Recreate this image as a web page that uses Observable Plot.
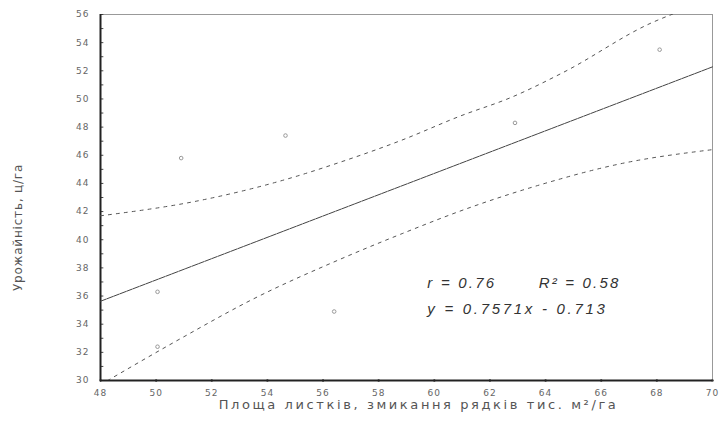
<!DOCTYPE html>
<html>
<head>
<meta charset="utf-8">
<script src="https://cdn.jsdelivr.net/npm/d3@7"></script>
<script src="https://cdn.jsdelivr.net/npm/@observablehq/plot@0.6"></script>
<style>
  html, body { margin: 0; padding: 0; background: #fff; }
  #chart svg { display: block; }
</style>
</head>
<body>
<div id="chart"></div>
<script>
// Observed points (leaf area, yield)
const pointX = [50.9, 54.65, 56.4, 62.9, 68.1, 50.05, 50.05];
const pointY = [45.8, 47.4, 34.9, 48.3, 53.5, 36.3, 32.4];

// Regression line y = 0.7571x - 0.713 (endpoints read at the plot edges)
const fitX = [48, 70];
const fitY = [35.63, 52.28];

// Upper confidence band
const upperX = [48, 51.6, 55.2, 56.3, 58.8, 60.95, 62.75, 64.65, 67.8, 69.2];
const upperY = [41.7, 42.8, 44.6, 45.3, 47.05, 48.8, 50.1, 51.9, 55.4, 56.5];

// Lower confidence band
const lowerX = [48, 50.9, 53.5, 56.6, 58.8, 61.3, 63.8, 66.7, 70];
const lowerY = [29.7, 33.0, 35.8, 38.6, 40.4, 42.3, 43.9, 45.4, 46.4];

const xTicks = [48, 50, 52, 54, 56, 58, 60, 62, 64, 66, 68, 70];
const yTicks = [30, 32, 34, 36, 38, 40, 42, 44, 46, 48, 50, 52, 54, 56];
const yMinor = d3.range(30, 57, 1);

const statR = "r = 0.76";
const statR2 = "R\u00B2 = 0.58";
const statEq = "y = 0.7571x - 0.713";
const xLabel = "Площа листків, змикання рядків тис. м\u00B2/га";
const yLabel = "Урожайність, ц/га";

const points = pointX.map((x, i) => ({x, y: pointY[i]}));
const fit = fitX.map((x, i) => ({x, y: fitY[i]}));
const upper = upperX.map((x, i) => ({x, y: upperY[i]}));
const lower = lowerX.map((x, i) => ({x, y: lowerY[i]}));

const statStyle = {textAnchor: "start", fontSize: 15, fontStyle: "italic", fill: "#333",
  fontFamily: "Liberation Sans, Arial, sans-serif"};

const chart = Plot.plot({
  width: 719,
  height: 431,
  marginLeft: 100,
  marginRight: 7,
  marginTop: 14,
  marginBottom: 51,
  style: {fontFamily: "DejaVu Sans, sans-serif", color: "#555", background: "#fff"},
  x: {type: "linear", domain: [48, 70]},
  y: {type: "linear", domain: [30, 56]},
  marks: [
    Plot.frame({stroke: "#999", strokeWidth: 1}),
    Plot.axisX({ticks: xTicks, tickSize: 0, tickPadding: 9, fontSize: 9, fill: "#666", label: null}),
    Plot.axisY({ticks: yTicks, tickSize: 0, tickPadding: 11, fontSize: 9, fill: "#666", label: null}),
    Plot.text([xLabel], {text: d => d, frameAnchor: "bottom", dx: 12, dy: 28, fontSize: 13, fill: "#555"}),
    Plot.text([yLabel], {text: d => d, frameAnchor: "left", textAnchor: "middle", dx: -82, dy: 30, rotate: -90, fontSize: 12, fill: "#555"}),
    Plot.ruleY(yMinor, {y: d => d, x1: 48, x2: 48.12, stroke: "#444", strokeWidth: 1}),
    Plot.dot(xTicks, {x: d => d, y: 30, r: 1.2, fill: "#333", stroke: null}),
    Plot.ruleX([48], {stroke: "#222", strokeWidth: 2}),
    Plot.ruleY([30], {stroke: "#222", strokeWidth: 2}),
    Plot.line(upper, {x: "x", y: "y", curve: "monotone-x", stroke: "#555", strokeWidth: 1, strokeDasharray: "3,5", clip: true}),
    Plot.line(lower, {x: "x", y: "y", curve: "monotone-x", stroke: "#555", strokeWidth: 1, strokeDasharray: "3,5", clip: true}),
    Plot.line(fit, {x: "x", y: "y", stroke: "#444", strokeWidth: 1, strokeDasharray: "6,1"}),
    Plot.dot(points, {x: "x", y: "y", r: 1.8, stroke: "#999", strokeWidth: 1, fill: "none"}),
    Plot.text([statR], {x: 59.75, y: 36.9, text: d => d, ...statStyle}),
    Plot.text([statR2], {x: 63.75, y: 36.9, text: d => d, ...statStyle}),
    Plot.text([statEq], {x: 59.75, y: 35.05, text: d => d, ...statStyle})
  ]
});
// letter spacing to mimic the wide scanned typography
const spacing = new Map([[xLabel, "2.6px"], [yLabel, "0.8px"], [statR, "2.2px"], [statR2, "2.2px"], [statEq, "2.7px"]]);
d3.select(chart).selectAll("text").each(function () {
  const t = this.textContent;
  if (spacing.has(t)) this.setAttribute("letter-spacing", spacing.get(t));
  else if (/^\d+$/.test(t)) this.setAttribute("letter-spacing", "1px");
});
document.getElementById("chart").appendChild(chart);
</script>
</body>
</html>
